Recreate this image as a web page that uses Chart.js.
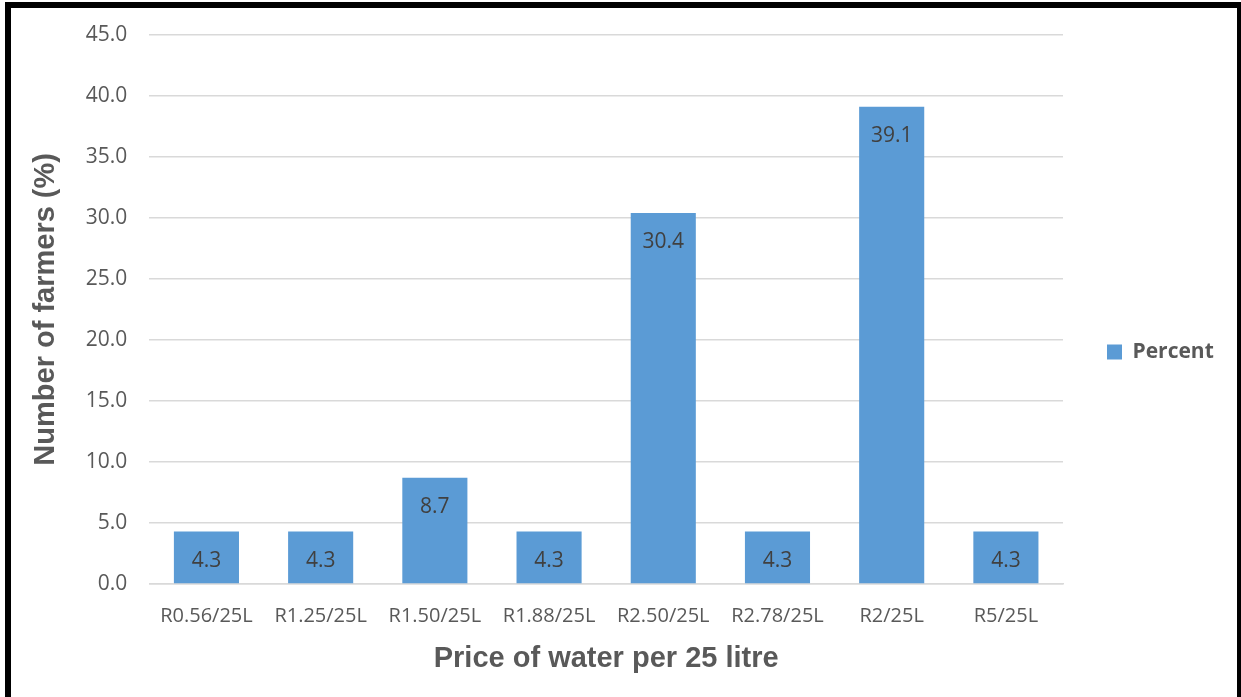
<!DOCTYPE html>
<html>
<head>
<meta charset="utf-8">
<script src="https://cdn.jsdelivr.net/npm/chart.js@4.4.1/dist/chart.umd.min.js"></script>
<style>
  html, body { margin: 0; padding: 0; background: #fff; }
  #wrap { position: relative; width: 1241px; height: 697px; overflow: hidden; }
  #frame {
    position: absolute; left: 5px; top: 2px; width: 1226px; height: 720px;
    border: 6px solid #000; pointer-events: none;
  }
</style>
</head>
<body>
<div id="wrap">
  <canvas id="graficoPreco" width="1241" height="697"></canvas>
  <div id="frame"></div>
</div>
<script>
// Preço da água por 25 litros e percentual de agricultores
const categorias = ['R0.56/25L', 'R1.25/25L', 'R1.50/25L', 'R1.88/25L', 'R2.50/25L', 'R2.78/25L', 'R2/25L', 'R5/25L'];
const percentuais = [4.3, 4.3, 8.7, 4.3, 30.4, 4.3, 39.1, 4.3];
const ticksY = [0, 5, 10, 15, 20, 25, 30, 35, 40, 45];

const fonteTexto = "'Open Sans', 'Noto Sans', sans-serif";
const fonteTitulo = "'Liberation Sans', Arial, sans-serif";

// Escreve o valor de cada barra logo abaixo do topo
const rotulosBarras = {
    id: 'rotulosBarras',
    afterDatasetsDraw(chart) {
        const ctx = chart.ctx;
        const meta = chart.getDatasetMeta(0);
        ctx.save();
        ctx.font = '21px ' + fonteTexto;
        ctx.fillStyle = '#404040';
        ctx.textAlign = 'center';
        ctx.textBaseline = 'middle';
        meta.data.forEach((bar, i) => {
            ctx.fillText(percentuais[i].toFixed(1), bar.x, bar.y + 29);
        });
        ctx.restore();
    }
};

// Legenda mais estreita: a largura fica fixa, com o espaço à esquerda do item
const larguraLegenda = {
    id: 'larguraLegenda',
    afterInit(chart) {
        const legenda = chart.legend;
        if (!legenda) return;
        const fitOriginal = legenda.fit.bind(legenda);
        legenda.fit = function () {
            fitOriginal();
            this.width = 172;
        };
    }
};

const ctx = document.getElementById('graficoPreco').getContext('2d');
new Chart(ctx, {
    type: 'bar',
    data: {
        labels: categorias,
        datasets: [{
            label: 'Percent',
            data: percentuais,
            backgroundColor: '#5b9bd5',
            borderWidth: 0,
            barPercentage: 0.57,
            categoryPercentage: 1
        }]
    },
    options: {
        responsive: false,
        animation: false,
        layout: { padding: { left: 29, right: 6, top: 29, bottom: 22 } },
        scales: {
            y: {
                min: 0,
                max: 45,
                afterBuildTicks: axis => { axis.ticks = ticksY.map(v => ({ value: v })); },
                ticks: {
                    callback: v => v.toFixed(1),
                    color: '#595959',
                    font: { family: fonteTexto, size: 21 },
                    padding: 22
                },
                grid: { color: '#d9d9d9', lineWidth: 1.5, drawTicks: false },
                border: { display: false },
                title: {
                    display: true,
                    text: 'Number of farmers (%)',
                    color: '#595959',
                    font: { family: fonteTitulo, size: 29, weight: 'bold' },
                    padding: { top: 0, bottom: 0 }
                }
            },
            x: {
                ticks: {
                    color: '#595959',
                    font: { family: fonteTexto, size: 20 },
                    padding: 20,
                    maxRotation: 0
                },
                grid: { display: false, drawTicks: false },
                border: { color: '#d9d9d9', width: 1.5 },
                title: {
                    display: true,
                    text: 'Price of water per 25 litre',
                    color: '#595959',
                    font: { family: fonteTitulo, size: 29, weight: 'bold', lineHeight: 1.1 },
                    padding: { top: -5, bottom: 0 }
                }
            }
        },
        plugins: {
            legend: {
                position: 'right',
                labels: {
                    boxWidth: 15,
                    boxHeight: 15,
                    padding: 44,
                    color: '#595959',
                    font: { family: fonteTexto, size: 21, weight: 'bold' }
                }
            },
            tooltip: { enabled: false }
        }
    },
    plugins: [rotulosBarras, larguraLegenda]
});
</script>
</body>
</html>
